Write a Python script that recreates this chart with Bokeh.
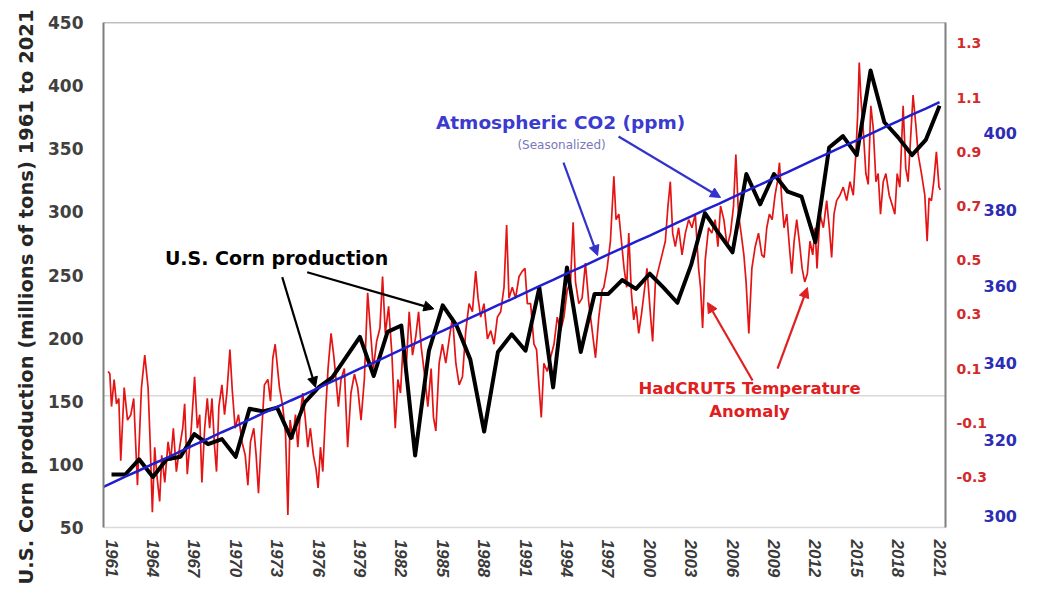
from bokeh.plotting import figure
from bokeh.models import (Range1d, LinearAxis, FixedTicker, Span, Arrow, NormalHead, Label, Title,
                          PrintfTickFormatter)
from bokeh.embed import file_html
from bokeh.resources import INLINE

# ---------------- data ----------------
years = list(range(1961, 2022))
corn = [92, 92, 104, 90, 104, 106, 124, 116, 120, 106,
        144, 142, 145, 121, 149, 161, 169, 185, 201, 170,
        205, 210, 107, 190, 226, 210, 183, 126, 189, 203,
        190, 240, 161, 256, 189, 235, 235, 246, 239, 251,
        240, 228, 258, 299, 283, 268, 330, 306, 330, 316,
        312, 276, 351, 360, 345, 412, 371, 359, 345, 357, 384]

co2_years = [1960.42] + years
co2 = [307.6, 308.6, 310.3, 311.9, 313.6, 315.2, 316.9, 318.6, 320.2, 321.9, 323.5,
       325.2, 326.9, 328.5, 330.2, 331.8, 333.5, 335.2, 336.8, 338.5, 340.1,
       341.8, 343.5, 345.1, 346.8, 348.4, 350.1, 351.8, 353.4, 355.1, 356.7,
       358.4, 360.1, 361.7, 363.4, 365.0, 366.7, 368.4, 370.0, 371.7, 373.3,
       375.0, 376.7, 378.3, 380.0, 381.6, 383.3, 385.0, 386.6, 388.3, 389.9,
       391.6, 393.3, 394.9, 396.6, 398.2, 399.9, 401.6, 403.2, 404.9, 406.5, 408.2]

temp_time = [1960.76, 1960.88, 1961.00, 1961.19, 1961.36, 1961.53, 1961.67, 1961.92, 1962.16, 1962.40,
             1962.61, 1962.88, 1963.17, 1963.41, 1963.65, 1963.80, 1963.96, 1964.13, 1964.28, 1964.49,
             1964.64, 1964.86, 1965.10, 1965.29, 1965.48, 1965.70, 1965.94, 1966.16, 1966.30, 1966.49,
             1966.78, 1967.02, 1967.22, 1967.39, 1967.55, 1967.75, 1967.94, 1968.11, 1968.28, 1968.47,
             1968.61, 1968.78, 1969.00, 1969.19, 1969.36, 1969.58, 1969.75, 1969.96, 1970.20, 1970.45,
             1970.69, 1970.88, 1971.07, 1971.31, 1971.48, 1971.65, 1971.84, 1972.08, 1972.33, 1972.52,
             1972.69, 1972.86,
             1973.17, 1973.41, 1973.61, 1973.78, 1973.94, 1974.14, 1974.33, 1974.50, 1974.67, 1974.86,
             1975.05, 1975.22, 1975.41, 1975.63, 1975.82, 1975.97, 1976.14, 1976.31, 1976.50, 1976.69,
             1976.91, 1977.10, 1977.27, 1977.44, 1977.63, 1977.87, 1978.11, 1978.35, 1978.60, 1978.84,
             1979.08, 1979.32, 1979.56, 1979.75, 1979.97, 1980.21, 1980.45, 1980.64, 1980.84, 1981.08,
             1981.32, 1981.56, 1981.75, 1981.94, 1982.14, 1982.33, 1982.57, 1982.81, 1983.05, 1983.25,
             1983.44, 1983.68, 1983.92, 1984.16,
             1984.33, 1984.50, 1984.74, 1984.98, 1985.22, 1985.47, 1985.71, 1985.95, 1986.19, 1986.43,
             1986.67, 1986.91, 1987.15, 1987.39, 1987.56, 1987.75, 1987.99, 1988.24, 1988.48, 1988.72,
             1988.96, 1989.20, 1989.44, 1989.63, 1989.80, 1990.04, 1990.28, 1990.53, 1990.77, 1990.96,
             1991.13, 1991.37, 1991.61, 1991.80, 1991.97, 1992.14, 1992.33, 1992.57, 1992.81, 1993.06,
             1993.30, 1993.54, 1993.78, 1994.02, 1994.26, 1994.45, 1994.62, 1994.86, 1995.10, 1995.34,
             1995.59, 1995.83, 1996.07, 1996.31, 1996.55,
             1996.67, 1996.91, 1997.15, 1997.40, 1997.56, 1997.76, 1997.95, 1998.14, 1998.33, 1998.48,
             1998.67, 1998.84, 1999.01, 1999.20, 1999.40, 1999.59, 1999.80, 2000.05, 2000.21, 2000.41,
             2000.65, 2000.89, 2001.13, 2001.32, 2001.49, 2001.66, 2001.85, 2002.09, 2002.34, 2002.58,
             2002.82, 2003.06, 2003.30, 2003.54, 2003.68, 2003.83, 2004.02, 2004.26, 2004.50, 2004.74,
             2004.94, 2005.13, 2005.37, 2005.61, 2005.85, 2006.07, 2006.24, 2006.43, 2006.62, 2006.82,
             2006.98, 2007.18, 2007.40, 2007.64, 2007.88, 2008.12,
             2008.29, 2008.48, 2008.67, 2008.87, 2009.08, 2009.25, 2009.40, 2009.57, 2009.73, 2009.93,
             2010.12, 2010.29, 2010.46, 2010.65, 2010.84, 2011.04, 2011.23, 2011.42, 2011.61, 2011.81,
             2011.98, 2012.12, 2012.34, 2012.58, 2012.82, 2013.01, 2013.18, 2013.35, 2013.54, 2013.78,
             2014.02, 2014.27, 2014.51, 2014.75, 2014.94, 2015.06, 2015.18, 2015.30, 2015.47, 2015.66,
             2015.83, 2016.02, 2016.19, 2016.39, 2016.55, 2016.72, 2016.92, 2017.11, 2017.35, 2017.59,
             2017.76, 2017.93, 2018.12, 2018.36, 2018.55, 2018.72, 2018.89, 2019.08, 2019.28, 2019.45,
             2019.69, 2019.93, 2020.10, 2020.24, 2020.41, 2020.58, 2020.77, 2020.96, 2021.06]
temp_anom = [0.09, 0.08, -0.04, 0.06, -0.03, -0.01, -0.24, 0.03, -0.09, -0.07,
             -0.01, -0.33, 0.03, 0.15, 0.03, -0.17, -0.43, -0.19, -0.29, -0.39,
             -0.22, -0.32, -0.17, -0.24, -0.12, -0.28, -0.19, -0.12, -0.03, -0.29,
             -0.12, 0.07, -0.12, -0.07, -0.32, -0.12, -0.01, -0.12, -0.01, -0.19,
             -0.28, -0.04, 0.04, -0.07, 0.01, 0.17, 0.02, -0.12, -0.07, -0.17,
             -0.22, -0.33, -0.17, -0.12, -0.22, -0.36, -0.17, 0.04, 0.06, -0.02,
             0.14, 0.19,
             0.03, -0.04, -0.14, -0.44, -0.09, -0.16, -0.07, -0.19, -0.07, 0.01,
             -0.09, -0.19, -0.12, -0.22, -0.27, -0.34, -0.19, -0.28, -0.07, 0.10,
             0.23, 0.15, 0.06, -0.04, 0.06, 0.10, -0.19, 0.01, 0.08, 0.03,
             -0.09, 0.06, 0.38, 0.25, 0.10, 0.20, 0.25, 0.44, 0.23, 0.33,
             0.15, -0.12, 0.06, 0.01, 0.20, 0.08, 0.31, 0.15, 0.22, 0.31,
             0.18, 0.08, -0.04, 0.10,
             -0.08, -0.13, 0.12, 0.19, 0.12, 0.21, 0.29, 0.12, 0.04, 0.07,
             0.24, 0.34, 0.31, 0.46, 0.36, 0.29, 0.34, 0.21, 0.24, 0.19,
             0.29, 0.31, 0.40, 0.63, 0.36, 0.40, 0.36, 0.44, 0.46, 0.47,
             0.34, 0.34, 0.19, 0.17, 0.04, -0.08, 0.12, 0.09, 0.14, 0.19,
             0.29, 0.24, 0.29, 0.39, 0.42, 0.64, 0.42, 0.34, 0.36, 0.49,
             0.34, 0.24, 0.14, 0.29, 0.39,
             0.40, 0.47, 0.57, 0.81, 0.65, 0.67, 0.57, 0.47, 0.40, 0.60,
             0.38, 0.28, 0.33, 0.23, 0.30, 0.38, 0.47, 0.30, 0.20, 0.42,
             0.47, 0.52, 0.57, 0.70, 0.79, 0.60, 0.55, 0.62, 0.52, 0.60,
             0.65, 0.62, 0.67, 0.47, 0.40, 0.25, 0.50, 0.62, 0.60, 0.65,
             0.55, 0.70, 0.65, 0.55, 0.60, 0.70, 0.89, 0.67, 0.60, 0.52,
             0.42, 0.23, 0.47, 0.55, 0.60, 0.52,
             0.51, 0.62, 0.67, 0.65, 0.74, 0.79, 0.86, 0.72, 0.62, 0.67,
             0.55, 0.45, 0.57, 0.65, 0.57, 0.47, 0.42, 0.45, 0.57, 0.52,
             0.62, 0.47, 0.67, 0.62, 0.72, 0.62, 0.51, 0.67, 0.72, 0.74,
             0.77, 0.72, 0.79, 0.74, 0.90, 1.03, 1.23, 1.10, 0.98, 0.82,
             0.78, 1.07, 0.99, 0.79, 0.82, 0.67, 0.79, 0.82, 0.74, 0.70,
             0.67, 0.82, 0.77, 1.07, 0.84, 0.79, 0.94, 1.11, 1.00, 0.89,
             0.82, 0.74, 0.57, 0.73, 0.72, 0.79, 0.90, 0.77, 0.76]

x_ticks = list(range(1961, 2022, 3))
left_ticks = [50, 100, 150, 200, 250, 300, 350, 400, 450]
temp_ticks = [-0.3, -0.1, 0.1, 0.3, 0.5, 0.7, 0.9, 1.1, 1.3]
co2_ticks = [300, 320, 340, 360, 380, 400]

BOLD_FONT = "DejaVu Sans"

# ---------------- figure ----------------
p = figure(width=1037, height=585, output_backend="svg", toolbar_location=None,
           x_range=Range1d(1960.42, 2021.43), y_range=Range1d(50, 450),
           min_border_left=103, min_border_right=92, min_border_top=22, min_border_bottom=58)
p.extra_y_ranges = {"temp": Range1d(-0.4864, 1.3775), "co2": Range1d(297.0, 429.0)}
p.outline_line_color = None
p.xgrid.grid_line_color = None
p.ygrid.grid_line_color = None
p.background_fill_color = "white"
p.border_fill_color = "white"

# left axis
ya = p.yaxis[0]
ya.ticker = FixedTicker(ticks=left_ticks)
ya.major_label_text_font = BOLD_FONT
ya.major_label_text_font_size = "17px"
ya.major_label_text_font_style = "bold"
ya.major_label_text_color = "#404040"
ya.axis_line_color = "#7f7f7f"
ya.axis_line_width = 2
ya.major_tick_line_color = None
ya.minor_tick_line_color = None
ya.major_tick_out = 0
ya.major_tick_in = 0
ya.major_label_standoff = 20

# bottom axis
xa = p.xaxis[0]
xa.ticker = FixedTicker(ticks=x_ticks)
xa.major_label_orientation = "vertical"
xa.major_label_text_font = "Liberation Sans"
xa.major_label_text_font_size = "17px"
xa.major_label_text_font_style = "bold italic"
xa.major_label_text_color = "#3a3a3a"
xa.axis_line_color = "#d9d9d9"
xa.axis_line_width = 1.5
xa.major_tick_line_color = None
xa.minor_tick_line_color = None
xa.major_tick_out = 0
xa.major_tick_in = 0
xa.major_label_standoff = 12

# right axes
ta = LinearAxis(y_range_name="temp", ticker=FixedTicker(ticks=temp_ticks),
                formatter=PrintfTickFormatter(format="%.1f"),
                axis_line_color="#7f7f7f", axis_line_width=2,
                major_tick_line_color=None, minor_tick_line_color=None,
                major_tick_out=0, major_tick_in=0, major_label_standoff=11,
                major_label_text_font=BOLD_FONT, major_label_text_font_size="14px",
                major_label_text_font_style="bold", major_label_text_color="#d42a2a")
p.add_layout(ta, "right")
ca = LinearAxis(y_range_name="co2", ticker=FixedTicker(ticks=co2_ticks),
                axis_line_color=None, major_tick_line_color=None, minor_tick_line_color=None,
                major_tick_out=0, major_tick_in=0, major_label_standoff=-7,
                major_label_text_font=BOLD_FONT, major_label_text_font_size="16px",
                major_label_text_font_style="bold", major_label_text_color="#2c2cb4")
p.add_layout(ca, "right")

# left axis title
yt = Title(text="U.S. Corn production (millions of tons) 1961 to 2021", align="right", offset=-13,
           text_font=BOLD_FONT, text_font_size="19.5px", text_font_style="bold",
           text_color="#262626", standoff=16)
p.add_layout(yt, "left")

# borders / zero line
p.add_layout(Span(location=450, dimension="width", line_color="#7f7f7f", line_width=1.5))
p.add_layout(Span(location=0, dimension="width", y_range_name="temp",
                  line_color="#d9d9d9", line_width=1.5, level="underlay"))

# ---------------- series ----------------
p.line(temp_time, temp_anom, y_range_name="temp", line_color="#e41414", line_width=1.7)
p.line(years, corn, line_color="black", line_width=4, line_join="round")
p.line(co2_years, co2, y_range_name="co2", line_color="#1f1fd0", line_width=2.5)

# ---------------- annotations ----------------
def arrow(x0, y0, x1, y1, color, lw=2.2):
    p.add_layout(Arrow(end=NormalHead(size=10, fill_color=color, line_color=color),
                       x_start=x0, y_start=y0, x_end=x1, y_end=y1,
                       line_color=color, line_width=lw))

arrow(1973.37, 248.3, 1975.78, 161.1, "black")
arrow(1975.18, 252.2, 1984.36, 223.2, "black")
arrow(1993.75, 339.1, 1996.22, 265.4, "#3333cc")
arrow(1997.74, 359.7, 2005.13, 311.4, "#3333cc")
arrow(2007.45, 166.4, 2004.19, 228.2, "#e02020")
arrow(2009.26, 175.9, 2011.43, 240.1, "#e02020")

def label(x, y, text, size, color, style="bold", font=BOLD_FONT):
    p.add_layout(Label(x=x, y=y, text=text, text_align="center", text_baseline="middle",
                       text_font=font, text_font_size=size, text_font_style=style,
                       text_color=color))

label(1972.96, 263.1, "U.S. Corn production", "19px", "black")
label(1993.54, 370.8, "Atmospheric CO2 (ppm)", "18.5px", "#3b3bd0")
label(1993.61, 352.6, "(Seasonalized)", "12px", "#7878b8", style="normal")
label(2007.23, 160.1, "HadCRUT5 Temperature", "16.5px", "#e02020")
label(2007.23, 141.9, "Anomaly", "16.5px", "#e02020")

open("out.html", "w").write(file_html(p, INLINE))
